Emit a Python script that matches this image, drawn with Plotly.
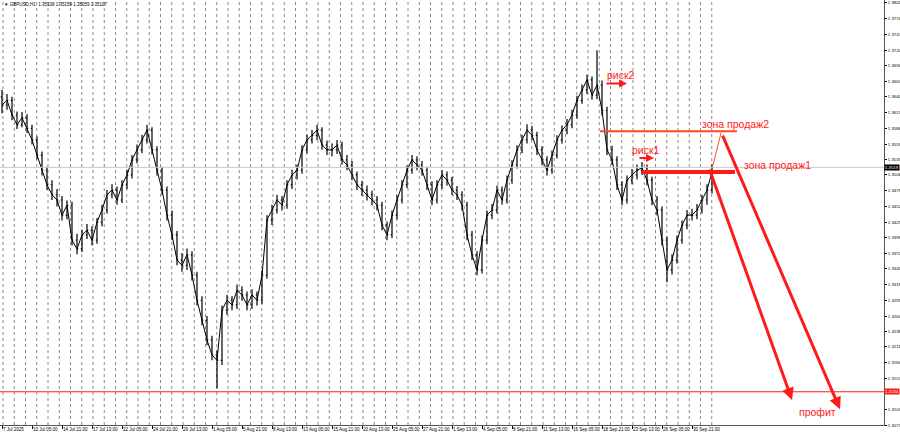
import numpy as np
import plotly.graph_objects as go

# GBPUSD H1, each candle here groups ~10.7 hourly bars
closes = [
    1.3626, 1.3634, 1.3609, 1.3592, 1.3604, 1.3586, 1.3566, 1.3540, 1.3514, 1.3489,
    1.3472, 1.3463, 1.3437, 1.3454, 1.3394, 1.3379, 1.3403, 1.3411, 1.3394, 1.3425,
    1.3446, 1.3472, 1.3480, 1.3463, 1.3489, 1.3506, 1.3532, 1.3549, 1.3566, 1.3583,
    1.3549, 1.3514, 1.3480, 1.3437, 1.3403, 1.3360, 1.3351, 1.3369, 1.3334, 1.3291,
    1.3257, 1.3223, 1.3197, 1.3188, 1.3274, 1.3291, 1.3283, 1.3308, 1.3300, 1.3283,
    1.3300, 1.3291, 1.3334, 1.3429, 1.3446, 1.3463, 1.3454, 1.3489, 1.3506, 1.3514,
    1.3549, 1.3566, 1.3574, 1.3583, 1.3557, 1.3549, 1.3549, 1.3557, 1.3532, 1.3523,
    1.3506, 1.3489, 1.3480, 1.3472, 1.3463, 1.3454, 1.3420, 1.3403, 1.3437, 1.3463,
    1.3489, 1.3514, 1.3532, 1.3523, 1.3514, 1.3489, 1.3463, 1.3489, 1.3506, 1.3497,
    1.3480, 1.3472, 1.3454, 1.3403, 1.3369, 1.3343, 1.3394, 1.3437, 1.3446, 1.3480,
    1.3463, 1.3497, 1.3523, 1.3549, 1.3566, 1.3583, 1.3574, 1.3549, 1.3532, 1.3514,
    1.3540, 1.3566, 1.3583, 1.3592, 1.3609, 1.3634, 1.3652, 1.3669, 1.3643, 1.3660,
    1.3617, 1.3549, 1.3532, 1.3489, 1.3463, 1.3497, 1.3506, 1.3514, 1.3518, 1.3497,
    1.3463, 1.3446, 1.3394, 1.3343, 1.3360, 1.3394, 1.3420, 1.3437, 1.3437, 1.3446,
    1.3463, 1.3480, 1.3511,
]
highs = [
    1.3652, 1.3645, 1.3640, 1.3615, 1.3614, 1.3610, 1.3592, 1.3572, 1.3546, 1.3520,
    1.3497, 1.3482, 1.3470, 1.3462, 1.3460, 1.3405, 1.3412, 1.3422, 1.3418, 1.3432,
    1.3455, 1.3480, 1.3490, 1.3486, 1.3497, 1.3515, 1.3540, 1.3558, 1.3575, 1.3592,
    1.3588, 1.3555, 1.3520, 1.3486, 1.3445, 1.3410, 1.3372, 1.3380, 1.3375, 1.3340,
    1.3298, 1.3264, 1.3230, 1.3205, 1.3282, 1.3300, 1.3298, 1.3318, 1.3315, 1.3306,
    1.3310, 1.3306, 1.3342, 1.3437, 1.3455, 1.3472, 1.3470, 1.3497, 1.3515, 1.3524,
    1.3557, 1.3575, 1.3583, 1.3592, 1.3588, 1.3565, 1.3560, 1.3566, 1.3563, 1.3540,
    1.3530, 1.3512, 1.3496, 1.3488, 1.3479, 1.3470, 1.3460, 1.3426, 1.3445, 1.3471,
    1.3497, 1.3522, 1.3540, 1.3538, 1.3530, 1.3520, 1.3495, 1.3497, 1.3514, 1.3512,
    1.3503, 1.3487, 1.3478, 1.3460, 1.3410, 1.3375, 1.3402, 1.3445, 1.3456, 1.3488,
    1.3486, 1.3505, 1.3531, 1.3557, 1.3575, 1.3593, 1.3590, 1.3580, 1.3555, 1.3538,
    1.3548, 1.3574, 1.3591, 1.3602, 1.3618, 1.3642, 1.3661, 1.3678, 1.3675, 1.3720,
    1.3668, 1.3623, 1.3556, 1.3538, 1.3495, 1.3505, 1.3516, 1.3524, 1.3528, 1.3524,
    1.3503, 1.3470, 1.3452, 1.3400, 1.3370, 1.3402, 1.3428, 1.3446, 1.3448, 1.3456,
    1.3472, 1.3490, 1.3524,
]
lows = [
    1.3612, 1.3618, 1.3600, 1.3585, 1.3588, 1.3578, 1.3558, 1.3533, 1.3505, 1.3480,
    1.3463, 1.3452, 1.3428, 1.3430, 1.3385, 1.3370, 1.3374, 1.3396, 1.3385, 1.3388,
    1.3418, 1.3440, 1.3466, 1.3455, 1.3458, 1.3482, 1.3500, 1.3526, 1.3543, 1.3560,
    1.3541, 1.3505, 1.3472, 1.3428, 1.3395, 1.3351, 1.3340, 1.3343, 1.3325, 1.3282,
    1.3248, 1.3214, 1.3188, 1.3140, 1.3180, 1.3266, 1.3274, 1.3276, 1.3290, 1.3274,
    1.3276, 1.3282, 1.3285, 1.3328, 1.3420, 1.3440, 1.3445, 1.3448, 1.3482, 1.3498,
    1.3508, 1.3543, 1.3560, 1.3566, 1.3549, 1.3540, 1.3538, 1.3542, 1.3524, 1.3514,
    1.3497, 1.3480, 1.3470, 1.3462, 1.3454, 1.3445, 1.3411, 1.3394, 1.3398, 1.3430,
    1.3457, 1.3483, 1.3508, 1.3514, 1.3505, 1.3480, 1.3454, 1.3457, 1.3482, 1.3488,
    1.3471, 1.3463, 1.3445, 1.3394, 1.3360, 1.3334, 1.3337, 1.3388, 1.3430, 1.3440,
    1.3455, 1.3457, 1.3491, 1.3517, 1.3543, 1.3560, 1.3566, 1.3540, 1.3523, 1.3505,
    1.3508, 1.3534, 1.3560, 1.3576, 1.3586, 1.3603, 1.3628, 1.3645, 1.3635, 1.3636,
    1.3608, 1.3540, 1.3523, 1.3480, 1.3454, 1.3457, 1.3490, 1.3498, 1.3506, 1.3488,
    1.3454, 1.3437, 1.3385, 1.3322, 1.3335, 1.3354, 1.3388, 1.3413, 1.3428, 1.3430,
    1.3440, 1.3455, 1.3474,
]
first_open = 1.3640
opens = [first_open] + closes[:-1]
bars = list(range(len(closes)))

time_tick_bars = list(range(0, 144, 6))
time_tick_text = [
    "7 Jul 2025", "10 Jul 05:00", "14 Jul 21:00", "17 Jul 13:00", "22 Jul 05:00",
    "24 Jul 21:00", "29 Jul 13:00", "1 Aug 05:00", "5 Aug 21:00", "8 Aug 13:00",
    "13 Aug 05:00", "15 Aug 21:00", "20 Aug 13:00", "25 Aug 05:00", "27 Aug 21:00",
    "1 Sep 13:00", "4 Sep 05:00", "8 Sep 21:00", "11 Sep 13:00", "16 Sep 05:00",
    "18 Sep 21:00", "23 Sep 13:00", "26 Sep 05:00", "30 Sep 21:00",
]
price_ticks = [
    1.3801, 1.3774, 1.3747, 1.3720, 1.3694, 1.3667, 1.3640, 1.3613, 1.3586, 1.3559,
    1.3533, 1.3506, 1.3479, 1.3452, 1.3425, 1.3399, 1.3372, 1.3345, 1.3318, 1.3291,
    1.3264, 1.3238, 1.3211, 1.3184, 1.3157, 1.3103, 1.3077,
]

bid_price = 1.3519
target_price = 1.3134
zone2_price = 1.3581
zone1_price = 1.3511

RED = "#ff1a1a"
ORANGE = "#ff4a1c"
FONT = "Liberation Sans"

fig = go.Figure()
fig.add_trace(
    go.Ohlc(
        x=bars,
        open=opens,
        high=highs,
        low=lows,
        close=closes,
        increasing_line_color="black",
        decreasing_line_color="black",
        line_width=1.2,
        tickwidth=0.25,
        hoverinfo="skip",
    )
)
# thin close line so the bars read as one continuous series, like the terminal at this zoom
fig.add_trace(
    go.Scatter(
        x=bars,
        y=closes,
        mode="lines",
        line=dict(color="black", width=1),
        hoverinfo="skip",
    )
)

# daily grid, only under the bars like the terminal draws it
shapes = []
for d in np.arange(0.2, len(closes) + 0.5, 2.25):
    shapes.append(dict(type="line", xref="x", yref="paper", x0=d, x1=d, y0=0, y1=1,
                       line=dict(color="#8a8a8a", width=1, dash="dot"), layer="below"))

shapes += [
    dict(type="line", xref="paper", yref="y", x0=0, x1=1, y0=bid_price, y1=bid_price,
         line=dict(color="#c8c8c8", width=1)),
    dict(type="line", xref="paper", yref="y", x0=0, x1=1, y0=target_price, y1=target_price,
         line=dict(color=RED, width=1)),
    dict(type="line", xref="x", yref="y", x0=119.6, x1=147, y0=zone2_price, y1=zone2_price,
         line=dict(color=ORANGE, width=2)),
    dict(type="line", xref="x", yref="y", x0=128, x1=146.6, y0=zone1_price, y1=zone1_price,
         line=dict(color=RED, width=4)),
    dict(type="line", xref="x", yref="y", x0=142.2, x1=143.8, y0=1.3523, y1=1.3578,
         line=dict(color=ORANGE, width=1)),
]

annotations = [
    dict(xref="paper", yref="paper", x=0.002, y=1, xanchor="left", yanchor="top",
         text="▼ GBPUSD,H1  1.35108 1.35159 1.35059 1.35107", showarrow=False,
         font=dict(family=FONT, size=4.5, color="black")),
    dict(x=146.6, y=1.3593, xanchor="center", text="зона продаж2", showarrow=False,
         font=dict(family=FONT, size=10.5, color=RED)),
    dict(x=148, y=1.3523, xanchor="left", text="зона продаж1", showarrow=False,
         font=dict(family=FONT, size=10.5, color=RED)),
    dict(x=120.6, y=1.3677, xanchor="left", text="риск2", showarrow=False,
         font=dict(family=FONT, size=10.5, color=RED)),
    dict(x=125.6, y=1.3549, xanchor="left", text="риск1", showarrow=False,
         font=dict(family=FONT, size=10.5, color=RED)),
    dict(x=163, y=1.3099, xanchor="center", text="профит", showarrow=False,
         font=dict(family=FONT, size=10.5, color=RED)),
    dict(xref="paper", x=1, y=bid_price, xanchor="left", xshift=0, text="1.3519",
         showarrow=False, bgcolor="black", borderpad=0,
         font=dict(family=FONT, size=4.3, color="white")),
    dict(xref="paper", x=1, y=target_price, xanchor="left", xshift=0, text="1.3134",
         showarrow=False, bgcolor=RED, borderpad=0,
         font=dict(family=FONT, size=4.3, color="white")),
]

# arrows: (tail x, tail y, head x, head y, width)
arrows = [
    (120.6, 1.3663, 125.0, 1.3663, 2),
    (127.2, 1.3535, 130.4, 1.3535, 2),
    (141.4, 1.3518, 158.0, 1.3120, 3),
    (144.0, 1.3576, 167.6, 1.3104, 3),
]
for x0, y0, x1, y1, w in arrows:
    annotations.append(dict(x=x1, y=y1, ax=x0, ay=y0, xref="x", yref="y", axref="x", ayref="y",
                            text="", showarrow=True, arrowhead=2, arrowsize=0.8,
                            arrowwidth=w, arrowcolor=RED))

fig.update_layout(
    width=900,
    height=439,
    margin=dict(l=0, r=16, t=0, b=14, autoexpand=False),
    plot_bgcolor="white",
    paper_bgcolor="white",
    showlegend=False,
    shapes=shapes,
    annotations=annotations,
    font=dict(family=FONT, size=4.5, color="black"),
)
fig.update_xaxes(
    range=[-0.4, 176.4],
    rangeslider_visible=False,
    automargin=False,
    tickmode="array",
    tickvals=time_tick_bars,
    ticktext=time_tick_text,
    tickangle=0,
    ticks="outside",
    ticklen=3,
    tickcolor="black",
    ticklabelposition="outside right",
    tickfont=dict(size=4.5),
    showline=True,
    linecolor="#555555",
    showgrid=False,
    zeroline=False,
)
fig.update_yaxes(
    side="right",
    range=[1.3077, 1.38061],
    automargin=False,
    tickmode="array",
    tickvals=price_ticks,
    ticktext=[f"{p:.4f}" for p in price_ticks],
    ticks="outside",
    ticklen=2,
    tickcolor="black",
    tickfont=dict(size=4.3),
    showline=True,
    linecolor="#555555",
    showgrid=False,
    zeroline=False,
)

# the page has a default body margin; drop it so the chart fills the window
fig.write_html(
    "out.html",
    config={"displayModeBar": False},
    post_script="document.body.style.margin='0';",
)
